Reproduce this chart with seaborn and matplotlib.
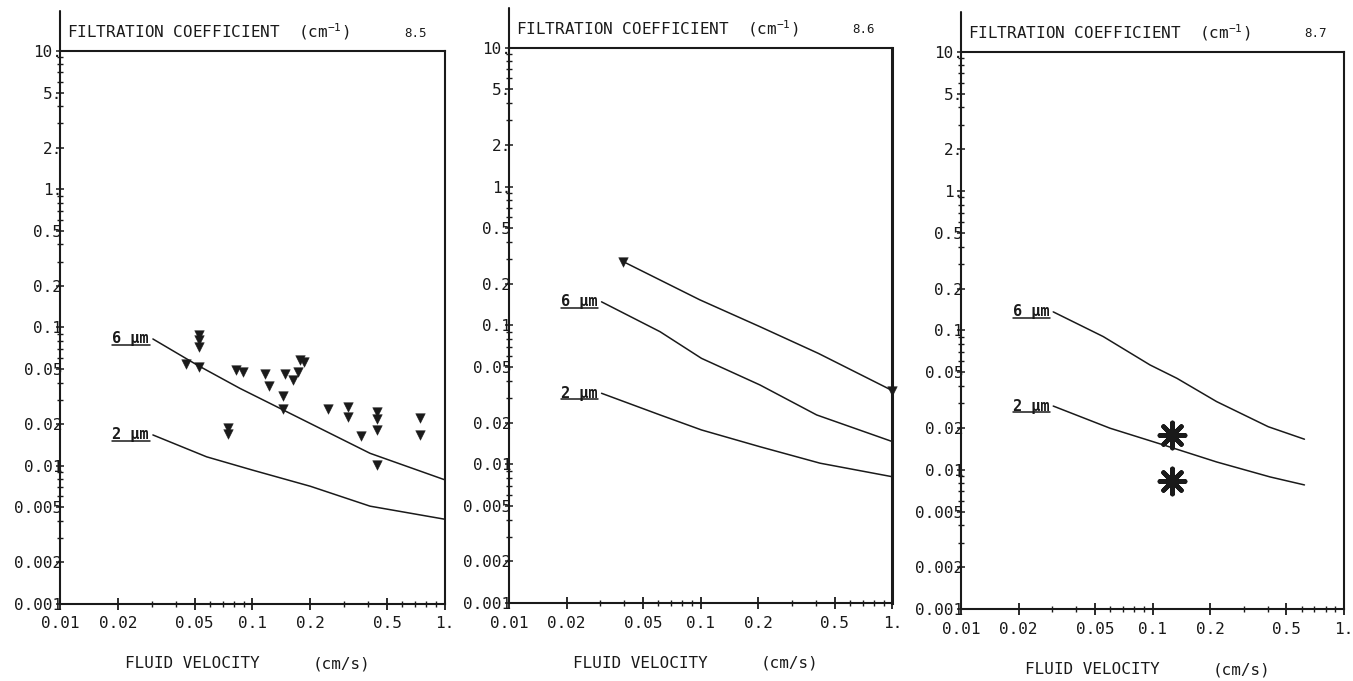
import matplotlib
matplotlib.use("Agg")
import matplotlib.pyplot as plt
import seaborn as sns
from matplotlib.ticker import FixedLocator, FixedFormatter, LogLocator, NullFormatter
from matplotlib.lines import Line2D

# ---------------- data ----------------
x_ticks = [0.01, 0.02, 0.05, 0.1, 0.2, 0.5, 1.0]
x_tick_labels = ["0.01", "0.02", "0.05", "0.1", "0.2", "0.5", "1."]
y_ticks = [0.001, 0.002, 0.005, 0.01, 0.02, 0.05, 0.1, 0.2, 0.5, 1, 2, 5, 10]
y_tick_labels = ["0.001", "0.002", "0.005", "0.01", "0.02", "0.05", "0.1",
                 "0.2", "0.5", "1.", "2.", "5.", "10."]
panel_numbers = ["8.5", "8.6", "8.7"]
curve_names = ["6 \u03bcm", "2 \u03bcm"]

# Panel 8.5
vel_6um_85 = [0.0304, 0.0515, 0.086, 0.139, 0.408, 1.0]
coef_6um_85 = [0.0826, 0.0536, 0.0363, 0.0260, 0.0123, 0.0079]
vel_2um_85 = [0.0304, 0.0578, 0.1, 0.2, 0.408, 1.0]
coef_2um_85 = [0.0167, 0.0116, 0.0093, 0.0071, 0.0051, 0.0041]
meas_vel_85 = [0.0451, 0.053, 0.053, 0.053, 0.053, 0.0749, 0.0749, 0.082, 0.0896,
               0.116, 0.122, 0.1445, 0.1445, 0.1475, 0.163, 0.173, 0.1766, 0.185,
               0.2457, 0.315, 0.315, 0.366, 0.445, 0.445, 0.445, 0.445, 0.742, 0.742]
meas_coef_85 = [0.054, 0.052, 0.088, 0.081, 0.0725, 0.0188, 0.0170, 0.049, 0.048,
                0.046, 0.038, 0.0318, 0.0256, 0.0464, 0.0415, 0.048, 0.058, 0.0564,
                0.0258, 0.0265, 0.0224, 0.0164, 0.0244, 0.0218, 0.0181, 0.0101,
                0.0220, 0.0168]

# Panel 8.6
vel_6um_86 = [0.0304, 0.0614, 0.101, 0.204, 0.403, 1.0]
coef_6um_86 = [0.148, 0.0902, 0.058, 0.0373, 0.0227, 0.0146]
vel_2um_86 = [0.0304, 0.0614, 0.101, 0.204, 0.42, 1.0]
coef_2um_86 = [0.0325, 0.0227, 0.0177, 0.0134, 0.0102, 0.00815]
trend_vel_86 = [0.0395, 0.099, 0.204, 0.411, 1.0]
trend_coef_86 = [0.288, 0.153, 0.098, 0.063, 0.034]

# Panel 8.7
vel_6um_87 = [0.0303, 0.0553, 0.097, 0.134, 0.216, 0.402, 0.621]
coef_6um_87 = [0.136, 0.0904, 0.0566, 0.0454, 0.0309, 0.0204, 0.0166]
vel_2um_87 = [0.0303, 0.060, 0.114, 0.216, 0.411, 0.621]
coef_2um_87 = [0.0287, 0.0199, 0.0151, 0.0114, 0.0089, 0.0078]
meas_vel_87 = [0.126, 0.126]
meas_coef_87 = [0.0178, 0.0083]

# ---------------- style ----------------
sns.set_theme(style="white")
plt.rcParams["font.family"] = ["DejaVu Sans Mono", "DejaVu Sans"]
plt.rcParams["mathtext.default"] = "regular"
INK = "#1a1a1a"

fig = plt.figure(figsize=(13.53, 6.81), dpi=100)
positions = [
    [0.0443, 0.1131, 0.2846, 0.8120],
    [0.3762, 0.1141, 0.2833, 0.8159],
    [0.7103, 0.1053, 0.2831, 0.8188],
]
axes = [fig.add_axes(p) for p in positions]

labels_to_underline = []


def style_axes(ax, number):
    ax.set_xscale("log")
    ax.set_yscale("log")
    ax.set_xlim(0.01, 1.0)
    ax.set_ylim(0.001, 10)
    ax.xaxis.set_major_locator(FixedLocator(x_ticks))
    ax.xaxis.set_major_formatter(FixedFormatter(x_tick_labels))
    ax.yaxis.set_major_locator(FixedLocator(y_ticks))
    ax.yaxis.set_major_formatter(FixedFormatter(y_tick_labels))
    ax.xaxis.set_minor_locator(LogLocator(base=10, subs=(3, 4, 6, 7, 8, 9)))
    ax.yaxis.set_minor_locator(LogLocator(base=10, subs=(3, 4, 6, 7, 8, 9)))
    ax.xaxis.set_minor_formatter(NullFormatter())
    ax.yaxis.set_minor_formatter(NullFormatter())
    ax.tick_params(axis="x", which="major", direction="inout", length=8, width=1.3,
                   labelsize=11.5, pad=5, colors=INK, bottom=True)
    ax.tick_params(axis="x", which="minor", direction="inout", length=5, width=1.0,
                   colors=INK, bottom=True)
    ax.tick_params(axis="y", which="major", direction="inout", length=6, width=1.1,
                   labelsize=11.5, pad=-4.5, colors=INK, left=True)
    ax.tick_params(axis="y", which="minor", direction="inout", length=5, width=1.0,
                   colors=INK, left=True)
    for s in ax.spines.values():
        s.set_visible(True)
        s.set_color(INK)
        s.set_linewidth(1.5)
    ax.set_xlabel("")
    ax.set_ylabel("")
    # axis line extending above the frame
    ax.add_line(Line2D([0, 0], [1, 1.072], transform=ax.transAxes, clip_on=False,
                       color=INK, lw=1.5))
    ax.text(0.018, 1.035, "FILTRATION COEFFICIENT  (cm$^{-1}$)", transform=ax.transAxes,
            ha="left", va="center", fontsize=11.5, color=INK)
    ax.text(0.895, 1.032, number, transform=ax.transAxes, ha="left", va="center",
            fontsize=9, color=INK)
    ax.text(0.343, -0.108, "FLUID VELOCITY", transform=ax.transAxes, ha="center",
            va="center", fontsize=11.5, color=INK)
    ax.text(0.732, -0.108, "(cm/s)", transform=ax.transAxes, ha="center",
            va="center", fontsize=11.5, color=INK)


def draw_curve(ax, xs, ys, name):
    sns.lineplot(x=xs, y=ys, ax=ax, color=INK, lw=1.1, sort=False, estimator=None)
    t = ax.annotate(name, xy=(xs[0], ys[0]), xytext=(-3, 0), textcoords="offset points",
                    ha="right", va="center", fontsize=11, fontweight="bold", color=INK)
    labels_to_underline.append(t)


for ax, num in zip(axes, panel_numbers):
    style_axes(ax, num)

# Panel 8.5
ax = axes[0]
draw_curve(ax, vel_6um_85, coef_6um_85, curve_names[0])
draw_curve(ax, vel_2um_85, coef_2um_85, curve_names[1])
sns.scatterplot(x=meas_vel_85, y=meas_coef_85, ax=ax, marker="v", s=48, color=INK,
                edgecolor=INK, linewidth=0.3, zorder=5)

# Panel 8.6
ax = axes[1]
draw_curve(ax, vel_6um_86, coef_6um_86, curve_names[0])
draw_curve(ax, vel_2um_86, coef_2um_86, curve_names[1])
sns.lineplot(x=trend_vel_86, y=trend_coef_86, ax=ax, color=INK, lw=1.1, sort=False,
             estimator=None)
sns.scatterplot(x=[trend_vel_86[0], trend_vel_86[-1]],
                y=[trend_coef_86[0], trend_coef_86[-1]], ax=ax, marker="v", s=48,
                color=INK, edgecolor=INK, linewidth=0.3, zorder=5, clip_on=False)
ax.spines["right"].set_linewidth(2.2)

# Panel 8.7
ax = axes[2]
draw_curve(ax, vel_6um_87, coef_6um_87, curve_names[0])
draw_curve(ax, vel_2um_87, coef_2um_87, curve_names[1])
ax.scatter(meas_vel_87, meas_coef_87, marker=(8, 2, 0), s=330, color=INK,
           linewidths=3.3, zorder=5)

for a in axes:
    if a.get_legend() is not None:
        a.get_legend().remove()

# underline the curve labels
fig.canvas.draw()
inv = fig.transFigure.inverted()
for t in labels_to_underline:
    bb = t.get_window_extent()
    (x0, y0), (x1, _) = inv.transform([(bb.x0, bb.y0 + 1.5), (bb.x1 + 1, bb.y0 + 1.5)])
    fig.add_artist(Line2D([x0, x1], [y0, y0], transform=fig.transFigure, color=INK,
                          lw=1.1))

fig.savefig("out.png", dpi=100, facecolor="white")
